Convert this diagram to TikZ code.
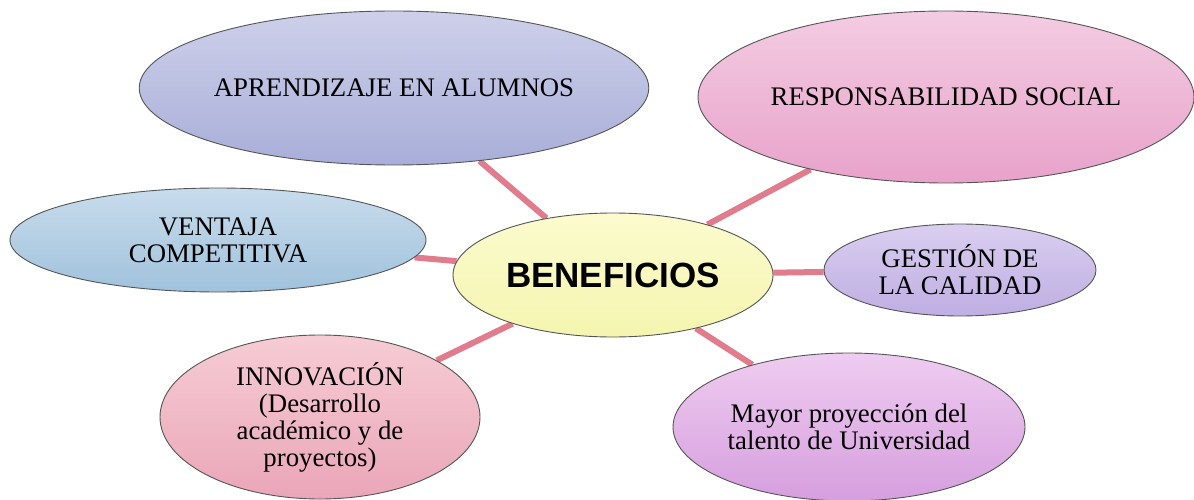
\documentclass[tikz,border=0pt]{standalone}
\usepackage{fontspec}
\setmainfont{Liberation Serif}
\newfontfamily\arialf{Liberation Sans}
\usetikzlibrary{shapes.geometric,backgrounds}
\definecolor{linkpink}{HTML}{E07C8C}
\definecolor{edgegray}{HTML}{555555}
\tikzset{
  bubble/.style={ellipse, draw=edgegray, line width=0.9pt, inner sep=0pt, align=center,
    font=\fontsize{26.8}{27}\selectfont},
  link/.style={draw=linkpink, line width=6pt}
}
\begin{document}
\begin{tikzpicture}[x=1pt,y=-1pt]
\useasboundingbox (0,0) rectangle (1194,500);
\node[bubble, minimum width=504pt, minimum height=154pt, top color={rgb,255:red,206;green,208;blue,234}, bottom color={rgb,255:red,168;green,174;blue,216}] (apr) at (394,88) {APRENDIZAJE EN ALUMNOS};
\node[bubble, minimum width=496pt, minimum height=172pt, top color={rgb,255:red,243;green,204;blue,226}, bottom color={rgb,255:red,232;green,162;blue,202}] (resp) at (946,97) {RESPONSABILIDAD SOCIAL};
\node[bubble, minimum width=416pt, minimum height=104pt, top color={rgb,255:red,200;green,220;blue,236}, bottom color={rgb,255:red,160;green,194;blue,220}] (vent) at (218,240) {VENTAJA\\COMPETITIVA};
\node[bubble, minimum width=320pt, minimum height=124pt, top color={rgb,255:red,251;green,251;blue,206}, bottom color={rgb,255:red,245;green,245;blue,176}, font=\arialf\bfseries\fontsize{35}{37}\selectfont] (ben) at (613,275) {BENEFICIOS};
\node[bubble, minimum width=272pt, minimum height=92pt, top color={rgb,255:red,218;green,206;blue,240}, bottom color={rgb,255:red,190;green,174;blue,226}] (gest) at (960,270) {GESTIÓN DE\\LA CALIDAD};
\node[bubble, minimum width=320pt, minimum height=164pt, top color={rgb,255:red,246;green,204;blue,212}, bottom color={rgb,255:red,234;green,166;blue,184}] (innov) at (320,417) {INNOVACIÓN\\(Desarrollo\\académico y de\\proyectos)};
\node[bubble, minimum width=352pt, minimum height=148pt, top color={rgb,255:red,238;green,204;blue,240}, bottom color={rgb,255:red,214;green,158;blue,222}] (mayor) at (849,427) {Mayor proyección del\\talento de Universidad};
\begin{scope}[on background layer]
\draw[link] (ben) -- (apr);
\draw[link] (ben) -- (resp);
\draw[link] (ben) -- (vent);
\draw[link] (ben) -- (gest);
\draw[link] (ben) -- (innov);
\draw[link] (ben) -- (mayor);
\end{scope}
\end{tikzpicture}
\end{document}
